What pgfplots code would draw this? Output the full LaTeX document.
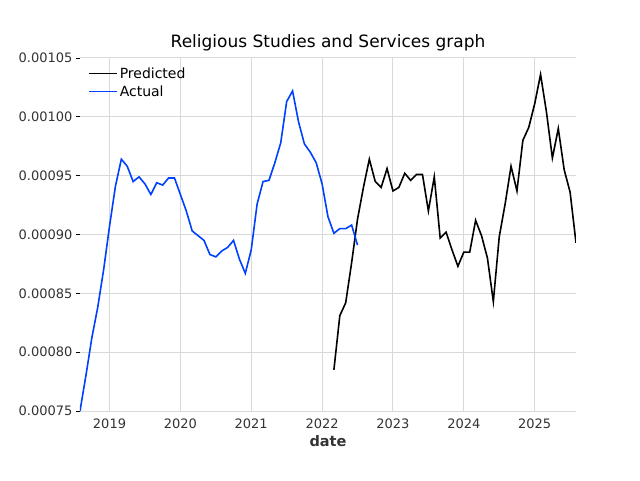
\documentclass[border=0pt]{standalone}
\usepackage{pgfplots}
\pgfplotsset{compat=1.18}
\usepackage{fontspec}
\setmainfont{DejaVu Sans}
\begin{document}
\begin{tikzpicture}[x=1pt,y=1pt]
\begin{axis}[at={(80pt,69pt)},anchor=south west,scale only axis,width=496pt,height=353pt,
 xmin=7,xmax=91,ymin=0.00075,ymax=0.00105,
 xtick={12,24,36,48,60,72,84},xticklabels={2019,2020,2021,2022,2023,2024,2025},
 ytick={0.00075,0.0008,0.00085,0.0009,0.00095,0.001,0.00105},
 yticklabel style={/pgf/number format/.cd,fixed,precision=5,zerofill},
 scaled y ticks=false,
 /pgf/number format/assume math mode=true,
 axis line style={draw=none},
 grid=major,major grid style={draw=gray!30,line width=1pt},
 ytick pos=left,
 tick style={black,line width=0.8pt},tick align=outside,major tick length=4pt,
 xtick style={draw=none},
 ticklabel style={font=\fontsize{13}{15}\selectfont,text=black!80},
 xlabel={\bfseries date},xlabel style={font=\fontsize{14.5}{17}\selectfont,text=black!80},
 title={Religious Studies and Services graph},title style={font=\fontsize{17}{20}\selectfont,yshift=-3pt},
 legend pos=north west,legend style={draw=none,fill=none,font=\fontsize{14}{17}\selectfont,row sep=2pt,at={(0.01,0.985)}},
 legend image code/.code={\draw[#1] (0pt,0pt) -- (28pt,0pt);},
 legend cell align=left,
]
\addplot[black,line width=1.6pt] coordinates {(50,0.000785)(51,0.000831)(52,0.000842)(53,0.000876)(54,0.000913)(55,0.000940)(56,0.000964)(57,0.000945)(58,0.000940)(59,0.000956)(60,0.000937)(61,0.000940)(62,0.000952)(63,0.000946)(64,0.000951)(65,0.000951)(66,0.000920)(67,0.000949)(68,0.000897)(69,0.000902)(70,0.000887)(71,0.000873)(72,0.000885)(73,0.000885)(74,0.000912)(75,0.000899)(76,0.000880)(77,0.000843)(78,0.000898)(79,0.000926)(80,0.000958)(81,0.000937)(82,0.000980)(83,0.000991)(84,0.001011)(85,0.001036)(86,0.001004)(87,0.000965)(88,0.000990)(89,0.000955)(90,0.000936)(91,0.000893)};
\addlegendentry{Predicted}
\addplot[color={rgb,255:red,0;green,64;blue,255},line width=1.6pt] coordinates {(7,0.000750)(8,0.000780)(9,0.000812)(10,0.000838)(11,0.000870)(12,0.000907)(13,0.000941)(14,0.000964)(15,0.000958)(16,0.000945)(17,0.000949)(18,0.000943)(19,0.000934)(20,0.000944)(21,0.000942)(22,0.000948)(23,0.000948)(24,0.000934)(25,0.000920)(26,0.000903)(27,0.000899)(28,0.000895)(29,0.000883)(30,0.000881)(31,0.000886)(32,0.000889)(33,0.000895)(34,0.000879)(35,0.000867)(36,0.000887)(37,0.000926)(38,0.000945)(39,0.000946)(40,0.000961)(41,0.000978)(42,0.001013)(43,0.001022)(44,0.000996)(45,0.000977)(46,0.000970)(47,0.000961)(48,0.000943)(49,0.000915)(50,0.000901)(51,0.000905)(52,0.000905)(53,0.000908)(54,0.000891)};
\addlegendentry{Actual}
\end{axis}
\pgfresetboundingbox
\useasboundingbox (0,0) rectangle (640pt,480pt);
\end{tikzpicture}
\end{document}
